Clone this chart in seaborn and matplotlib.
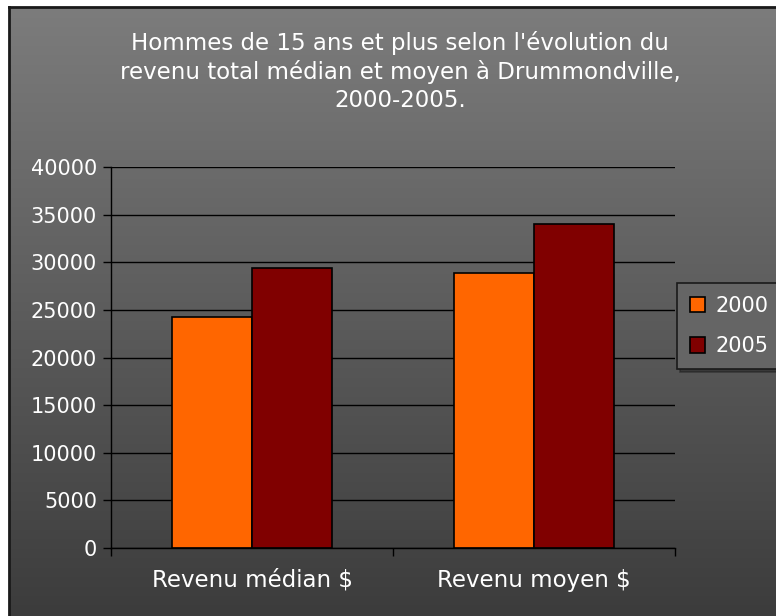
import numpy as np
import pandas as pd
import matplotlib
matplotlib.use("Agg")
import matplotlib.pyplot as plt
from matplotlib.colors import LinearSegmentedColormap
import seaborn as sns

categories = ["Revenu médian $", "Revenu moyen $"]
years = ["2000", "2005"]
values_2000 = [24300, 28900]
values_2005 = [29400, 34000]
y_ticks = [0, 5000, 10000, 15000, 20000, 25000, 30000, 35000, 40000]
title = ("Hommes de 15 ans et plus selon l'évolution du\n"
         "revenu total médian et moyen à Drummondville,\n"
         "2000-2005.")

df = pd.DataFrame({
    "categorie": categories * 2,
    "annee": [years[0]] * 2 + [years[1]] * 2,
    "valeur": values_2000 + values_2005,
})

sns.set_style("white")
plt.rcParams["font.family"] = ["DejaVu Sans"]

W, H = 776, 616
fig = plt.figure(figsize=(W / 100, H / 100), dpi=100)
fig.patch.set_facecolor("white")

# gradient background of the chart area
bg = fig.add_axes([9 / W, 0, 1 - 9 / W, 1 - 7 / H])
grad = np.linspace(0, 1, 256).reshape(-1, 1)
cmap_bg = LinearSegmentedColormap.from_list("bg", ["#7c7c7c", "#3c3c3c"])
bg.imshow(grad, aspect="auto", cmap=cmap_bg, extent=[0, 1, 0, 1], origin="upper")
bg.set_xticks([])
bg.set_yticks([])
for side in ["right", "bottom"]:
    bg.spines[side].set_visible(False)
for side in ["left", "top"]:
    bg.spines[side].set_color("#1a1a1a")
    bg.spines[side].set_linewidth(2)
bg.set_zorder(-1)

ax = fig.add_axes([111 / W, 1 - 548 / H, (675 - 111) / W, (548 - 167) / H])
ax.patch.set_alpha(0)

sns.barplot(data=df, x="categorie", y="valeur", hue="annee",
            palette=["#FF6600", "#800000"], width=0.57,
            edgecolor="black", linewidth=1.2, saturation=1, ax=ax)

ax.set_ylim(0, 40000)
ax.set_xlim(-0.5, 1.5)
ax.set_yticks(y_ticks)
ax.set_yticklabels([str(v) for v in y_ticks])
ax.yaxis.grid(True, color="black", linewidth=1)
ax.set_axisbelow(True)
ax.set_xlabel("")
ax.set_ylabel("")
for side in ["top", "right"]:
    ax.spines[side].set_visible(False)
for side in ["left", "bottom"]:
    ax.spines[side].set_color("black")
    ax.spines[side].set_linewidth(1)

ax.tick_params(axis="y", which="major", length=6, width=1, color="black",
               labelsize=15, labelcolor="white", pad=4, left=True)
ax.tick_params(axis="x", which="major", length=0, labelsize=16.5,
               labelcolor="white", pad=15)
ax.set_xticks([-0.5, 0.5, 1.5], minor=True)
ax.tick_params(axis="x", which="minor", length=6, width=1, color="black",
               bottom=True)

leg = ax.legend(loc="upper left", bbox_to_anchor=(677 / W, 1 - 283 / H),
                bbox_transform=fig.transFigure, borderaxespad=0,
                frameon=True, fancybox=False, shadow=True,
                handlelength=0.75, handleheight=0.75, handletextpad=0.5,
                labelspacing=1.0, borderpad=0.6, fontsize=15)
leg.get_frame().set_facecolor("#656565")
leg.get_frame().set_edgecolor("#1a1a1a")
leg.get_frame().set_linewidth(1.2)
for t in leg.get_texts():
    t.set_color("white")

fig.text(400 / W, 1 - 31 / H, title, ha="center", va="top",
         color="white", fontsize=16.5, linespacing=1.28)

fig.savefig("out.png", dpi=100)
